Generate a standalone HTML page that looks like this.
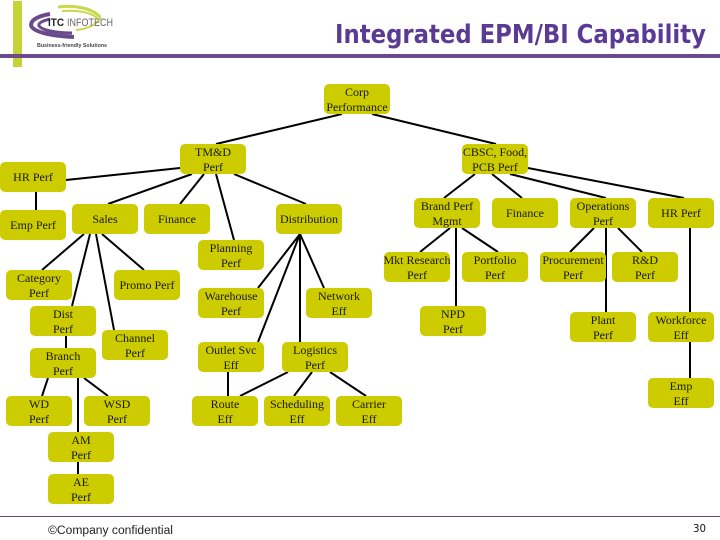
<!DOCTYPE html>
<html><head><meta charset="utf-8"><style>
html,body{margin:0;padding:0;background:#fff}
svg{display:block}
.b rect{fill:#cccc00}
.t text{font-family:"Liberation Serif",serif;font-size:12px;fill:#1a1a00;text-anchor:middle}
</style></head><body>
<svg width="720" height="540" viewBox="0 0 720 540" xmlns="http://www.w3.org/2000/svg">
<rect x="13" y="1" width="9" height="66" fill="#c5d336"/>
<rect x="0" y="54" width="720" height="4" fill="#6b4a8c"/>
<g fill="none">
<path d="M58 7 C75 5 92 8 100 17" stroke="#c8d84a" stroke-width="3"/>
<path d="M62 11 C78 10 90 12 97 18" stroke="#c8d84a" stroke-width="2"/>
<path d="M76 30 C88 29 98 24 101 17" stroke="#c8d84a" stroke-width="2"/>
<path d="M50 14 C38 16 31 20 31 25 C32 32 52 36 74 37" stroke="#6b4a8c" stroke-width="4"/>
<path d="M50 19 C42 21 38 23 39 26 C42 30 55 33 72 33" stroke="#6b4a8c" stroke-width="3"/>
</g>
<text x="48" y="26" font-family="Liberation Sans,sans-serif" font-size="11" font-weight="bold" fill="#222" textLength="16" lengthAdjust="spacingAndGlyphs">ITC</text>
<text x="67" y="26" font-family="Liberation Sans,sans-serif" font-size="11" fill="#666" textLength="46" lengthAdjust="spacingAndGlyphs">INFOTECH</text>
<text x="37" y="47" font-family="Liberation Sans,sans-serif" font-size="5.5" font-weight="bold" fill="#444" textLength="70" lengthAdjust="spacingAndGlyphs">Business-friendly Solutions</text>
<text x="335" y="43" font-family="DejaVu Sans,sans-serif" font-size="26" font-weight="bold" fill="#5b3a94" textLength="371" lengthAdjust="spacingAndGlyphs">Integrated EPM/BI Capability</text>

<g stroke="#000" stroke-width="2" fill="none">
<line x1="342" y1="114" x2="216" y2="144"/><line x1="372" y1="114" x2="496" y2="144"/>
<line x1="180" y1="168" x2="66" y2="180"/><line x1="192" y1="174" x2="108" y2="204"/>
<line x1="204" y1="174" x2="180" y2="204"/><line x1="216" y1="174" x2="234" y2="240"/>
<line x1="234" y1="174" x2="306" y2="204"/><line x1="36" y1="192" x2="36" y2="210"/>
<line x1="84" y1="234" x2="42" y2="270"/><line x1="90" y1="234" x2="72" y2="306"/>
<line x1="96" y1="234" x2="114" y2="330"/><line x1="102" y1="234" x2="144" y2="270"/>
<line x1="66" y1="336" x2="66" y2="348"/><line x1="48" y1="378" x2="42" y2="396"/>
<line x1="78" y1="378" x2="78" y2="432"/><line x1="84" y1="378" x2="108" y2="396"/>
<line x1="78" y1="462" x2="78" y2="474"/>
<line x1="300" y1="234" x2="258" y2="288"/><line x1="300" y1="234" x2="258" y2="342"/>
<line x1="300" y1="234" x2="300" y2="342"/><line x1="300" y1="234" x2="324" y2="288"/>
<line x1="228" y1="372" x2="228" y2="396"/><line x1="288" y1="372" x2="240" y2="396"/>
<line x1="312" y1="372" x2="294" y2="396"/><line x1="330" y1="372" x2="366" y2="396"/>
<line x1="475" y1="174" x2="444" y2="198"/><line x1="492" y1="174" x2="522" y2="198"/>
<line x1="510" y1="174" x2="606" y2="198"/><line x1="528" y1="168" x2="684" y2="198"/>
<line x1="450" y1="228" x2="420" y2="252"/><line x1="456" y1="228" x2="456" y2="306"/>
<line x1="462" y1="228" x2="498" y2="252"/><line x1="594" y1="228" x2="570" y2="252"/>
<line x1="606" y1="228" x2="606" y2="312"/><line x1="618" y1="228" x2="642" y2="252"/>
<line x1="690" y1="228" x2="690" y2="312"/><line x1="690" y1="342" x2="690" y2="378"/>
</g>

<g class="b">
<rect x="324" y="84" width="66" height="30" rx="5"/>
<rect x="180" y="144" width="66" height="30" rx="5"/>
<rect x="462" y="144" width="66" height="30" rx="5"/>
<rect x="0" y="162" width="66" height="30" rx="5"/>
<rect x="0" y="210" width="66" height="30" rx="5"/>
<rect x="72" y="204" width="66" height="30" rx="5"/>
<rect x="144" y="204" width="66" height="30" rx="5"/>
<rect x="276" y="204" width="66" height="30" rx="5"/>
<rect x="198" y="240" width="66" height="30" rx="5"/>
<rect x="414" y="198" width="66" height="30" rx="5"/>
<rect x="492" y="198" width="66" height="30" rx="5"/>
<rect x="570" y="198" width="66" height="30" rx="5"/>
<rect x="648" y="198" width="66" height="30" rx="5"/>
<rect x="6" y="270" width="66" height="30" rx="5"/>
<rect x="114" y="270" width="66" height="30" rx="5"/>
<rect x="30" y="306" width="66" height="30" rx="5"/>
<rect x="30" y="348" width="66" height="30" rx="5"/>
<rect x="102" y="330" width="66" height="30" rx="5"/>
<rect x="6" y="396" width="66" height="30" rx="5"/>
<rect x="84" y="396" width="66" height="30" rx="5"/>
<rect x="48" y="432" width="66" height="30" rx="5"/>
<rect x="48" y="474" width="66" height="30" rx="5"/>
<rect x="198" y="288" width="66" height="30" rx="5"/>
<rect x="306" y="288" width="66" height="30" rx="5"/>
<rect x="198" y="342" width="66" height="30" rx="5"/>
<rect x="282" y="342" width="66" height="30" rx="5"/>
<rect x="192" y="396" width="66" height="30" rx="5"/>
<rect x="264" y="396" width="66" height="30" rx="5"/>
<rect x="336" y="396" width="66" height="30" rx="5"/>
<rect x="384" y="252" width="66" height="30" rx="5"/>
<rect x="462" y="252" width="66" height="30" rx="5"/>
<rect x="540" y="252" width="66" height="30" rx="5"/>
<rect x="612" y="252" width="66" height="30" rx="5"/>
<rect x="420" y="306" width="66" height="30" rx="5"/>
<rect x="570" y="312" width="66" height="30" rx="5"/>
<rect x="648" y="312" width="66" height="30" rx="5"/>
<rect x="648" y="378" width="66" height="30" rx="5"/>
</g>

<g class="t">
<text x="357" y="96">Corp</text><text x="357" y="111">Performance</text>
<text x="213" y="156">TM&amp;D</text><text x="213" y="171">Perf</text>
<text x="495" y="156">CBSC, Food,</text><text x="495" y="171">PCB Perf</text>
<text x="33" y="181">HR Perf</text>
<text x="33" y="229">Emp Perf</text>
<text x="105" y="223">Sales</text>
<text x="177" y="223">Finance</text>
<text x="309" y="223">Distribution</text>
<text x="231" y="252">Planning</text><text x="231" y="267">Perf</text>
<text x="447" y="210">Brand Perf</text><text x="447" y="225">Mgmt</text>
<text x="525" y="217">Finance</text>
<text x="603" y="210">Operations</text><text x="603" y="225">Perf</text>
<text x="681" y="217">HR Perf</text>
<text x="39" y="282">Category</text><text x="39" y="297">Perf</text>
<text x="147" y="289">Promo Perf</text>
<text x="63" y="318">Dist</text><text x="63" y="333">Perf</text>
<text x="63" y="360">Branch</text><text x="63" y="375">Perf</text>
<text x="135" y="342">Channel</text><text x="135" y="357">Perf</text>
<text x="39" y="408">WD</text><text x="39" y="423">Perf</text>
<text x="117" y="408">WSD</text><text x="117" y="423">Perf</text>
<text x="81" y="444">AM</text><text x="81" y="459">Perf</text>
<text x="81" y="486">AE</text><text x="81" y="501">Perf</text>
<text x="231" y="300">Warehouse</text><text x="231" y="315">Perf</text>
<text x="339" y="300">Network</text><text x="339" y="315">Eff</text>
<text x="231" y="354">Outlet Svc</text><text x="231" y="369">Eff</text>
<text x="315" y="354">Logistics</text><text x="315" y="369">Perf</text>
<text x="225" y="408">Route</text><text x="225" y="423">Eff</text>
<text x="297" y="408">Scheduling</text><text x="297" y="423">Eff</text>
<text x="369" y="408">Carrier</text><text x="369" y="423">Eff</text>
<text x="417" y="264">Mkt Research</text><text x="417" y="279">Perf</text>
<text x="495" y="264">Portfolio</text><text x="495" y="279">Perf</text>
<text x="573" y="264">Procurement</text><text x="573" y="279">Perf</text>
<text x="645" y="264">R&amp;D</text><text x="645" y="279">Perf</text>
<text x="453" y="318">NPD</text><text x="453" y="333">Perf</text>
<text x="603" y="324">Plant</text><text x="603" y="339">Perf</text>
<text x="681" y="324">Workforce</text><text x="681" y="339">Eff</text>
<text x="681" y="390">Emp</text><text x="681" y="405">Eff</text>
</g>

<rect x="0" y="516" width="720" height="1" fill="#5d4a6e"/>
<text x="48" y="534" font-family="Liberation Sans,sans-serif" font-size="11.5" fill="#222" textLength="125" lengthAdjust="spacingAndGlyphs">©Company confidential</text>
<text x="693" y="532" font-family="DejaVu Sans,sans-serif" font-size="11" fill="#111" textLength="13" lengthAdjust="spacingAndGlyphs">30</text>
</svg>
</body></html>
